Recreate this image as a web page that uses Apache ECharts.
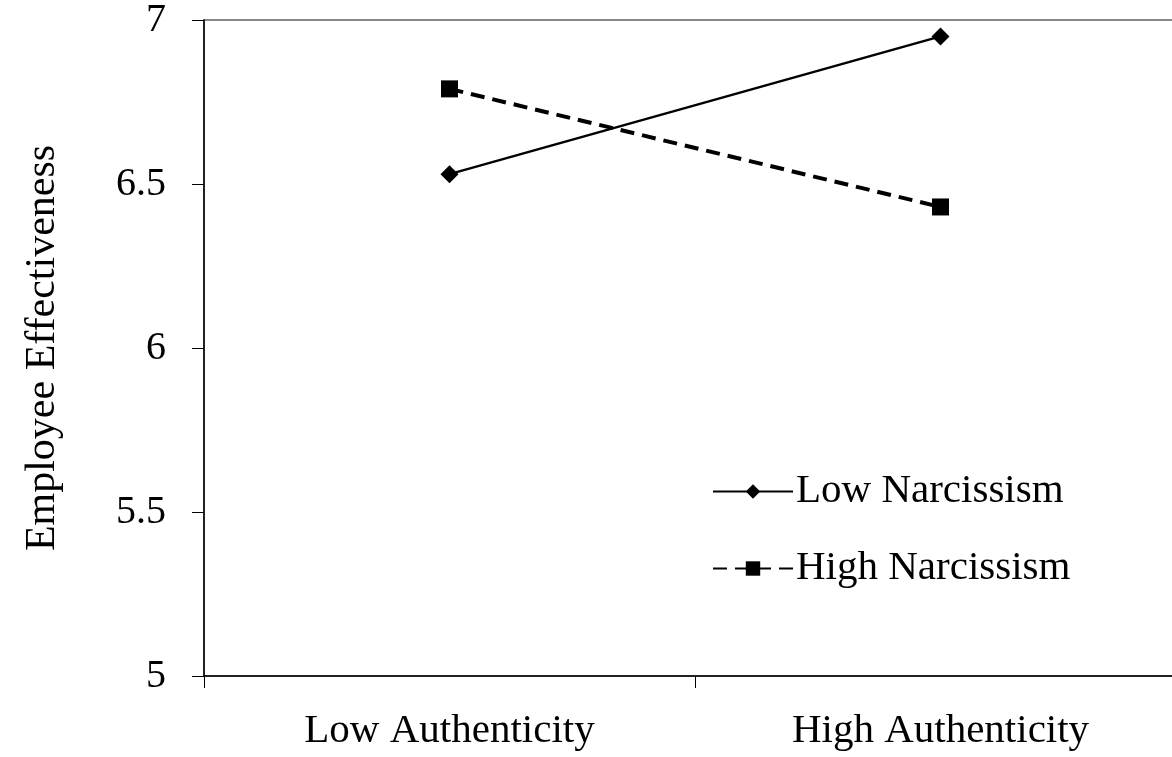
<!DOCTYPE html>
<html>
<head>
<meta charset="utf-8">
<script src="https://cdn.jsdelivr.net/npm/echarts@6/dist/echarts.min.js"></script>
<style>
  html, body { margin: 0; padding: 0; background: #fff; overflow: hidden; }
  /* plot runs a little past the right edge of the window, as in the source figure */
  #chart { width: 1186px; height: 757px; }
</style>
</head>
<body>
<div id="chart"></div>
<script>
const categories = ['Low Authenticity', 'High Authenticity'];
const lowNarcissism = [6.53, 6.95];
const highNarcissism = [6.79, 6.43];
const yTicks = [5, 5.5, 6, 6.5, 7];

const chart = echarts.init(document.getElementById('chart'));
const font = 'Liberation Serif';

const option = {
  backgroundColor: '#fff',
  animation: false,
  grid: {
    left: 204, top: 20, bottom: 81, right: 0,
    show: true, borderColor: '#888', borderWidth: 2, backgroundColor: 'transparent'
  },
  legend: {
    orient: 'vertical',
    left: 712, top: 471, padding: 0,
    itemWidth: 80, itemHeight: 18, itemGap: 36,
    textStyle: { fontFamily: font, fontSize: 41, color: '#000', padding: [0, 0, 0, -2] },
    data: ['Low Narcissism', 'High Narcissism']
  },
  xAxis: {
    type: 'category',
    data: categories,
    boundaryGap: true,
    axisLine: { lineStyle: { color: '#000', width: 1.5 } },
    axisTick: { show: true, length: 12, lineStyle: { color: '#000' } },
    axisLabel: { fontFamily: font, fontSize: 41, color: '#000', margin: 35 }
  },
  yAxis: {
    type: 'value',
    min: yTicks[0], max: yTicks[yTicks.length - 1], interval: 0.5,
    name: 'Employee Effectiveness',
    nameLocation: 'middle', nameGap: 140, nameRotate: 90,
    nameTextStyle: { fontFamily: font, fontSize: 42, color: '#000' },
    axisLine: { show: true, lineStyle: { color: '#000', width: 1.5 } },
    axisTick: { show: true, length: 12, lineStyle: { color: '#000' } },
    splitLine: { show: false },
    axisLabel: { fontFamily: font, fontSize: 40, color: '#000', margin: 38 }
  },
  series: [
    {
      name: 'Low Narcissism', type: 'line', data: lowNarcissism,
      symbol: 'diamond', symbolSize: 18,
      itemStyle: { color: '#000' },
      lineStyle: { color: '#000', width: 2.5 }
    },
    {
      name: 'High Narcissism', type: 'line', data: highNarcissism,
      symbol: 'rect', symbolSize: 17,
      itemStyle: { color: '#000' },
      lineStyle: { color: '#000', width: 4, type: [14, 8] }
    }
  ]
};

chart.setOption(option);
</script>
</body>
</html>
